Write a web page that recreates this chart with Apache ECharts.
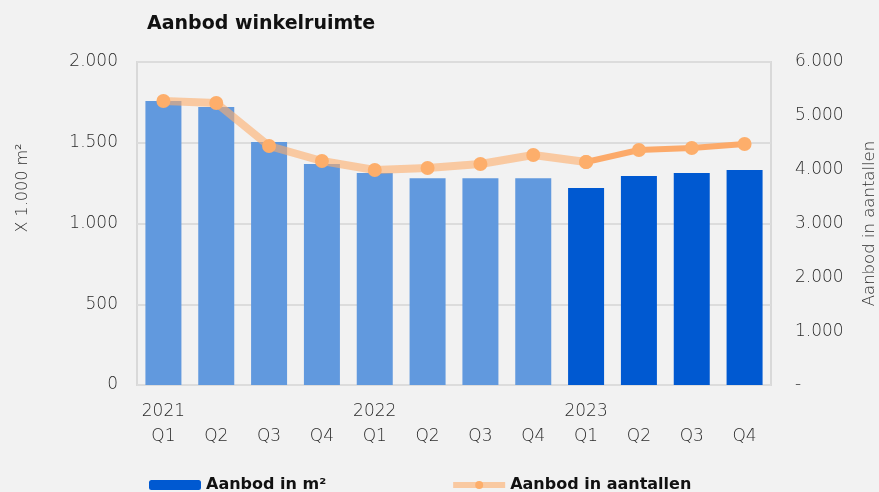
<!DOCTYPE html>
<html>
<head>
<meta charset="utf-8">
<script src="https://cdn.jsdelivr.net/npm/echarts@6/dist/echarts.min.js"></script>
<style>
  html, body { margin: 0; padding: 0; background: #f2f2f2; }
  #chart { width: 879px; height: 492px; }
</style>
</head>
<body>
<div id="chart"></div>
<script>
  // data
  const years = ['2021', '', '', '', '2022', '', '', '', '2023', '', '', '']
  const quarters = ['Q1', 'Q2', 'Q3', 'Q4', 'Q1', 'Q2', 'Q3', 'Q4', 'Q1', 'Q2', 'Q3', 'Q4']
  const aanbodM2 = [1758, 1721, 1505, 1368, 1313, 1280, 1280, 1280, 1220, 1294, 1313, 1331]
  const aanbodAantal = [5276, 5238, 4440, 4161, 3994, 4031, 4105, 4272, 4142, 4365, 4402, 4477]
  const firstDarkIndex = 8

  const categories = years.map((y, i) => y + '\n' + quarters[i])
  const fmt = v => String(v).replace(/\B(?=(\d{3})+(?!\d))/g, '.')

  const barData = aanbodM2.map((v, i) => ({
    value: v,
    itemStyle: { color: i < firstDarkIndex ? '#6199de' : '#0059d1' }
  }))
  const lineLight = aanbodAantal.map((v, i) => (i <= firstDarkIndex ? v : null))
  const lineDark = aanbodAantal.map((v, i) => (i >= firstDarkIndex ? v : null))

  const font = '"DejaVu Sans", sans-serif'
  const labelStyle = { fontSize: 17, color: '#2b2b2b', fontFamily: font, fontWeight: 200 }
  const chart = echarts.init(document.getElementById('chart'))
  chart.setOption({
    backgroundColor: '#f2f2f2',
    textStyle: { fontFamily: font },
    title: {
      text: 'Aanbod winkelruimte',
      left: 142,
      top: 10,
      textStyle: { fontSize: 19, fontWeight: 'bold', color: '#111', fontFamily: font }
    },
    legend: {
      left: 149,
      top: 477,
      padding: 0,
      itemWidth: 52,
      itemHeight: 10,
      itemGap: 124,
      textStyle: { fontSize: 16, fontWeight: 'bold', color: '#111', fontFamily: font },
      data: [
        'Aanbod in m²',
        { name: 'Aanbod in aantallen', lineStyle: { width: 6, color: 'rgba(253,174,107,0.6)' } }
      ]
    },
    graphic: [
      {
        type: 'text',
        x: 23,
        y: 188,
        rotation: Math.PI / 2,
        style: {
          text: 'X 1.000 m²',
          align: 'center',
          verticalAlign: 'middle',
          fontSize: 16,
          fontFamily: font,
          fontWeight: 200,
          fill: '#2b2b2b'
        }
      }
    ],
    grid: {
      left: 137,
      right: 108,
      top: 62,
      bottom: 107,
      containLabel: false,
      outerBoundsMode: 'none',
      show: true,
      borderColor: '#d9d9d9',
      borderWidth: 2,
      backgroundColor: 'transparent'
    },
    xAxis: {
      type: 'category',
      data: categories,
      axisLine: { show: false },
      axisTick: { show: false },
      axisLabel: Object.assign({}, labelStyle, { lineHeight: 25, margin: 14, interval: 0 })
    },
    yAxis: [
      {
        type: 'value',
        min: 0,
        max: 2000,
        interval: 500,
        axisLabel: Object.assign({}, labelStyle, { margin: 19, formatter: fmt }),
        splitLine: { lineStyle: { color: '#dcdcdc', width: 2 } },
        axisLine: { show: false },
        axisTick: { show: false }
      },
      {
        type: 'value',
        min: 0,
        max: 6000,
        interval: 1000,
        name: 'Aanbod in aantallen',
        nameLocation: 'middle',
        nameGap: 90,
        nameTextStyle: { fontSize: 16.5, color: '#2b2b2b', fontFamily: font, fontWeight: 200 },
        axisLabel: Object.assign({}, labelStyle, {
          margin: 24,
          formatter: v => (v === 0 ? '-' : fmt(v))
        }),
        splitLine: { show: false },
        axisLine: { show: false },
        axisTick: { show: false }
      }
    ],
    series: [
      {
        name: 'Aanbod in m²',
        type: 'bar',
        barWidth: 36,
        itemStyle: { color: '#0059d1' },
        data: barData
      },
      {
        name: 'Aanbod in aantallen',
        type: 'line',
        yAxisIndex: 1,
        symbol: 'circle',
        symbolSize: 14,
        itemStyle: { color: '#fdae6b' },
        lineStyle: { color: 'rgba(253,174,107,0.6)', width: 8 },
        data: lineLight
      },
      {
        name: 'Aanbod in aantallen',
        type: 'line',
        yAxisIndex: 1,
        symbol: 'circle',
        symbolSize: 14,
        itemStyle: { color: '#fdae6b' },
        lineStyle: { color: '#fcaa6a', width: 6 },
        data: lineDark
      }
    ]
  })
</script>
</body>
</html>
